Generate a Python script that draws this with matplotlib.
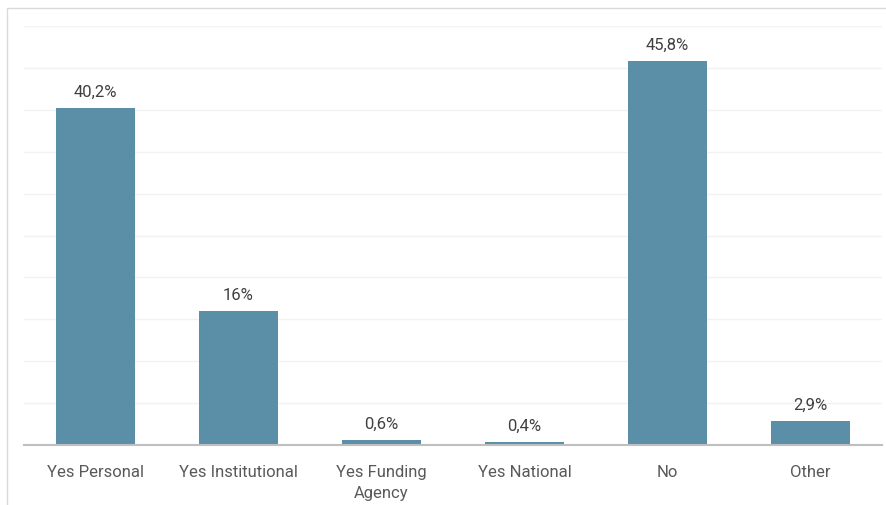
import matplotlib
matplotlib.use("Agg")
import matplotlib.pyplot as plt
from matplotlib.patches import Rectangle

categories = ["Yes Personal", "Yes Institutional", "Yes Funding\nAgency",
              "Yes National", "No", "Other"]
shares = [40.2, 16.0, 0.6, 0.4, 45.8, 2.9]
value_labels = ["40,2%", "16%", "0,6%", "0,4%", "45,8%", "2,9%"]

plt.rcParams['font.family'] = ['Roboto', 'DejaVu Sans']

def main():
    fig = plt.figure(figsize=(8.86, 5.06), dpi=100)
    ax = fig.add_axes([24 / 886, 1 - 446 / 506, 858 / 886, 419 / 506])

    # light frame around the chart area
    fig.patches.append(Rectangle((7 / 886, -0.05), 1.0, 1 - 9 / 506 + 0.05,
                                 transform=fig.transFigure, fill=False,
                                 edgecolor='#d9d9d9', linewidth=1.0))

    x = range(len(categories))
    ax.bar(x, shares, width=0.55, color='#5a8fa7', zorder=2)
    for xi, v, lab in zip(x, shares, value_labels):
        ax.text(xi, v + 1.1, lab, ha='center', va='bottom',
                fontsize=12, color='#404040')

    ax.set_xlim(-0.5, len(categories) - 0.5)
    ax.set_ylim(0, 50)
    ax.set_yticks(range(0, 51, 5))
    ax.yaxis.grid(True, color='#f2f2f2', linewidth=1.0, zorder=0)
    ax.set_axisbelow(True)
    ax.tick_params(axis='y', left=False, labelleft=False)
    ax.tick_params(axis='x', length=0, pad=14, labelsize=12, labelcolor='#595959')
    ax.set_xticks(list(x))
    ax.set_xticklabels(categories, linespacing=1.45)
    for side in ['top', 'right', 'left']:
        ax.spines[side].set_visible(False)
    ax.spines['bottom'].set_color('#bfbfbf')
    ax.spines['bottom'].set_linewidth(1.5)

    fig.savefig("out.png", dpi=100)

if __name__ == "__main__":
    main()
